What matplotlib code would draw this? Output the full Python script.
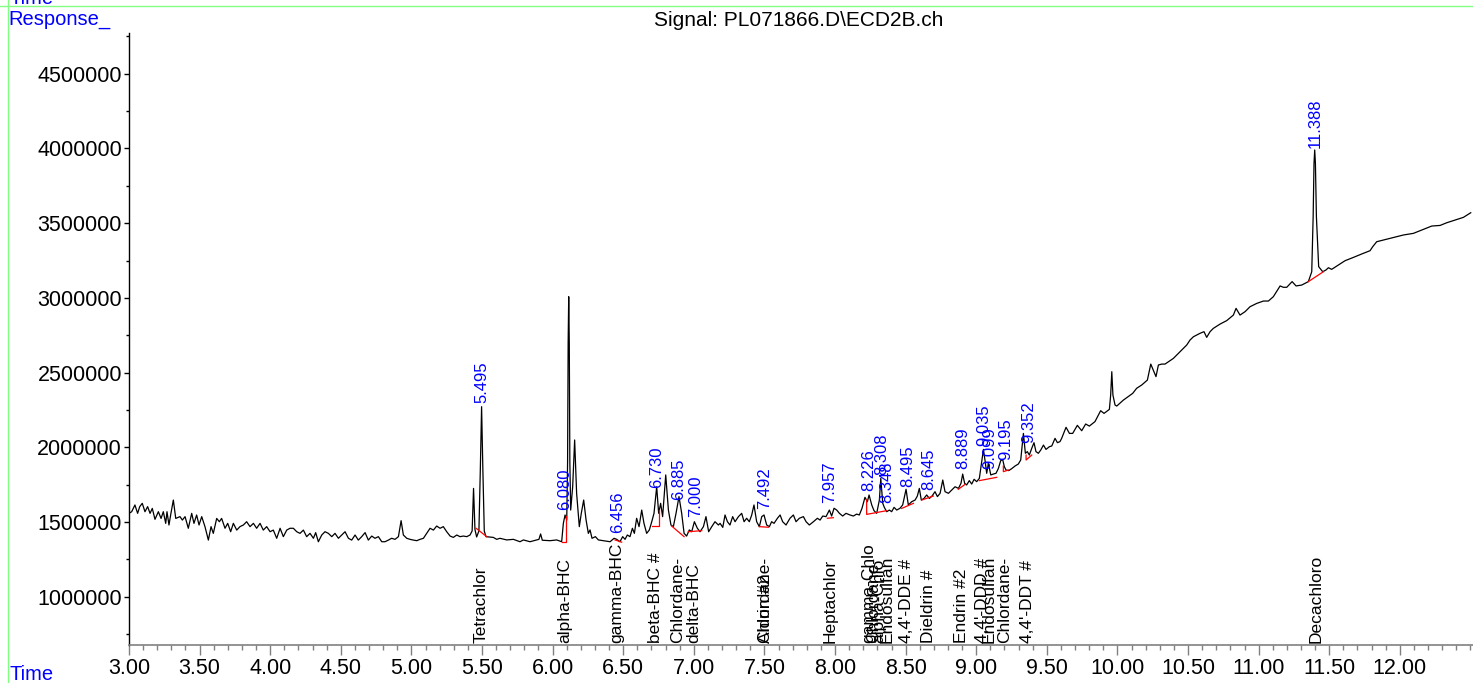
import matplotlib
matplotlib.use("Agg")
import matplotlib.pyplot as plt
from matplotlib.lines import Line2D
from matplotlib.ticker import MultipleLocator, FormatStrFormatter, FixedLocator, FuncFormatter

plt.rcParams["font.family"] = ["Liberation Sans", "DejaVu Sans"]

TITLE = "Signal: PL071866.D\\ECD2B.ch"

# chromatogram trace (time in min, response in counts)
trace_time = [
    3.000, 3.019, 3.042, 3.061, 3.076, 3.094, 3.113, 3.132, 3.149, 3.165, 3.184, 3.208,
    3.227, 3.243, 3.260, 3.269, 3.283, 3.297, 3.314, 3.331, 3.361, 3.378, 3.397, 3.420,
    3.444, 3.460, 3.479, 3.496, 3.515, 3.538, 3.562, 3.581, 3.597, 3.621, 3.640, 3.656,
    3.680, 3.699, 3.720, 3.739, 3.763, 3.786, 3.810, 3.833, 3.857, 3.881, 3.904, 3.928,
    3.951, 3.975, 3.999, 4.022, 4.046, 4.070, 4.093, 4.117, 4.140, 4.164, 4.188, 4.211,
    4.235, 4.258, 4.282, 4.306, 4.322, 4.341, 4.365, 4.388, 4.412, 4.436, 4.459, 4.483,
    4.506, 4.530, 4.554, 4.577, 4.601, 4.624, 4.648, 4.672, 4.695, 4.719, 4.742, 4.766,
    4.790, 4.813, 4.837, 4.860, 4.884, 4.908, 4.927, 4.943, 4.967, 4.990, 5.014, 5.038,
    5.061, 5.085, 5.108, 5.132, 5.156, 5.179, 5.203, 5.226, 5.250, 5.274, 5.297, 5.321,
    5.344, 5.368, 5.392, 5.415, 5.430, 5.440, 5.450, 5.462, 5.478, 5.488, 5.497, 5.506,
    5.516, 5.528, 5.580, 5.604, 5.627, 5.675, 5.722, 5.769, 5.793, 5.840, 5.887, 5.903,
    5.915, 5.927, 5.982, 6.029, 6.064, 6.076, 6.088, 6.100, 6.106, 6.110, 6.114, 6.118,
    6.122, 6.128, 6.142, 6.156, 6.170, 6.189, 6.203, 6.220, 6.237, 6.253, 6.265, 6.279,
    6.303, 6.324, 6.359, 6.407, 6.435, 6.454, 6.477, 6.496, 6.513, 6.529, 6.548, 6.565,
    6.579, 6.595, 6.612, 6.631, 6.647, 6.666, 6.685, 6.702, 6.718, 6.737, 6.751, 6.765,
    6.779, 6.801, 6.820, 6.838, 6.855, 6.874, 6.895, 6.914, 6.931, 6.949, 6.968, 6.985,
    7.004, 7.025, 7.044, 7.068, 7.086, 7.105, 7.127, 7.150, 7.174, 7.186, 7.205, 7.221,
    7.238, 7.256, 7.275, 7.292, 7.316, 7.339, 7.356, 7.374, 7.393, 7.410, 7.426, 7.445,
    7.464, 7.481, 7.497, 7.516, 7.535, 7.551, 7.568, 7.592, 7.611, 7.629, 7.653, 7.681,
    7.705, 7.724, 7.747, 7.776, 7.795, 7.818, 7.847, 7.875, 7.894, 7.913, 7.936, 7.960,
    7.976, 7.993, 8.012, 8.031, 8.054, 8.078, 8.106, 8.130, 8.153, 8.172, 8.191, 8.212,
    8.229, 8.241, 8.260, 8.276, 8.295, 8.314, 8.324, 8.338, 8.349, 8.366, 8.385, 8.401,
    8.418, 8.437, 8.460, 8.479, 8.503, 8.519, 8.543, 8.567, 8.583, 8.597, 8.611, 8.630,
    8.649, 8.668, 8.687, 8.708, 8.725, 8.744, 8.763, 8.779, 8.803, 8.826, 8.850, 8.874,
    8.892, 8.904, 8.918, 8.932, 8.951, 8.968, 8.985, 9.003, 9.022, 9.039, 9.051, 9.065,
    9.074, 9.086, 9.103, 9.121, 9.140, 9.157, 9.173, 9.187, 9.199, 9.211, 9.230, 9.251,
    9.275, 9.298, 9.315, 9.334, 9.348, 9.362, 9.376, 9.393, 9.409, 9.423, 9.440, 9.457,
    9.476, 9.494, 9.518, 9.535, 9.558, 9.575, 9.593, 9.605, 9.636, 9.660, 9.683, 9.716,
    9.747, 9.775, 9.801, 9.841, 9.881, 9.905, 9.943, 9.952, 9.960, 9.968, 9.983, 9.995,
    10.042, 10.108, 10.136, 10.172, 10.212, 10.236, 10.254, 10.273, 10.290, 10.314, 10.337, 10.396,
    10.455, 10.491, 10.514, 10.538, 10.585, 10.613, 10.632, 10.656, 10.679, 10.727, 10.774, 10.821,
    10.840, 10.868, 10.904, 10.939, 10.986, 11.034, 11.069, 11.104, 11.152, 11.175, 11.199, 11.237,
    11.265, 11.305, 11.352, 11.376, 11.386, 11.392, 11.397, 11.402, 11.409, 11.425, 11.454, 11.477,
    11.494, 11.517, 11.553, 11.612, 11.671, 11.730, 11.789, 11.808, 11.836, 11.883, 11.954, 12.025,
    12.096, 12.167, 12.226, 12.285, 12.332, 12.391, 12.450, 12.502,
]
trace_resp = [
    1558000, 1569000, 1614000, 1558000, 1603000, 1625000, 1569000, 1603000, 1558000, 1591000, 1518000, 1569000,
    1524000, 1569000, 1491000, 1569000, 1480000, 1558000, 1647000, 1524000, 1536000, 1513000, 1536000, 1458000,
    1558000, 1491000, 1547000, 1480000, 1536000, 1469000, 1379000, 1469000, 1424000, 1524000, 1502000, 1524000,
    1458000, 1491000, 1435000, 1491000, 1446000, 1469000, 1480000, 1502000, 1469000, 1491000, 1458000, 1491000,
    1446000, 1469000, 1435000, 1446000, 1391000, 1458000, 1402000, 1446000, 1458000, 1458000, 1435000, 1424000,
    1446000, 1402000, 1424000, 1391000, 1429000, 1368000, 1413000, 1435000, 1424000, 1402000, 1424000, 1391000,
    1413000, 1435000, 1391000, 1379000, 1413000, 1379000, 1402000, 1429000, 1379000, 1406000, 1391000, 1402000,
    1368000, 1368000, 1379000, 1391000, 1384000, 1402000, 1509000, 1413000, 1391000, 1384000, 1379000, 1375000,
    1384000, 1391000, 1424000, 1458000, 1446000, 1473000, 1458000, 1469000, 1435000, 1406000, 1397000, 1413000,
    1402000, 1406000, 1402000, 1413000, 1440000, 1725000, 1450000, 1400000, 1440000, 1850000, 2272000, 1850000,
    1440000, 1402000, 1397000, 1384000, 1391000, 1380000, 1384000, 1368000, 1380000, 1368000, 1380000, 1384000,
    1420000, 1378000, 1375000, 1380000, 1368000, 1491000, 1547000, 1513000, 1900000, 2700000, 3008000, 2700000,
    1900000, 1580000, 1736000, 2049000, 1692000, 1469000, 1558000, 1647000, 1513000, 1424000, 1447000, 1391000,
    1402000, 1380000, 1375000, 1368000, 1391000, 1384000, 1368000, 1402000, 1384000, 1413000, 1402000, 1458000,
    1424000, 1525000, 1469000, 1580000, 1491000, 1424000, 1447000, 1502000, 1558000, 1736000, 1558000, 1625000,
    1536000, 1815000, 1580000, 1480000, 1469000, 1558000, 1670000, 1558000, 1424000, 1406000, 1447000, 1435000,
    1502000, 1458000, 1435000, 1469000, 1536000, 1435000, 1469000, 1502000, 1480000, 1491000, 1464000, 1547000,
    1502000, 1480000, 1536000, 1502000, 1536000, 1558000, 1502000, 1525000, 1502000, 1547000, 1614000, 1502000,
    1469000, 1536000, 1547000, 1480000, 1469000, 1502000, 1491000, 1525000, 1547000, 1502000, 1480000, 1525000,
    1547000, 1502000, 1525000, 1536000, 1502000, 1480000, 1502000, 1525000, 1513000, 1540000, 1536000, 1580000,
    1540000, 1592000, 1580000, 1558000, 1540000, 1558000, 1547000, 1540000, 1553000, 1547000, 1592000, 1665000,
    1636000, 1681000, 1614000, 1576000, 1558000, 1647000, 1792000, 1625000, 1598000, 1569000, 1580000, 1569000,
    1598000, 1580000, 1592000, 1614000, 1719000, 1614000, 1636000, 1647000, 1674000, 1725000, 1647000, 1658000,
    1681000, 1658000, 1674000, 1703000, 1670000, 1692000, 1781000, 1703000, 1692000, 1714000, 1736000, 1725000,
    1759000, 1821000, 1759000, 1748000, 1777000, 1754000, 1786000, 1770000, 1792000, 1904000, 1986000, 1893000,
    1826000, 1893000, 1815000, 1821000, 1826000, 1859000, 1910000, 1919000, 1870000, 1848000, 1844000, 1857000,
    1875000, 1888000, 1915000, 2093000, 1960000, 1971000, 1948000, 1993000, 2031000, 1971000, 1960000, 1982000,
    2015000, 1986000, 2004000, 2009000, 2060000, 2031000, 2038000, 2060000, 2134000, 2093000, 2093000, 2147000,
    2111000, 2156000, 2142000, 2172000, 2245000, 2227000, 2254000, 2350000, 2506000, 2350000, 2283000, 2276000,
    2316000, 2361000, 2395000, 2417000, 2450000, 2557000, 2517000, 2473000, 2551000, 2557000, 2557000, 2595000,
    2651000, 2685000, 2718000, 2740000, 2763000, 2774000, 2736000, 2774000, 2796000, 2825000, 2848000, 2885000,
    2930000, 2885000, 2908000, 2941000, 2963000, 2979000, 2979000, 3008000, 3080000, 3071000, 3071000, 3109000,
    3080000, 3086000, 3109000, 3175000, 3544000, 3900000, 3990000, 3900000, 3544000, 3209000, 3175000, 3187000,
    3202000, 3191000, 3213000, 3249000, 3271000, 3294000, 3316000, 3343000, 3376000, 3387000, 3403000, 3421000,
    3432000, 3459000, 3481000, 3485000, 3503000, 3521000, 3539000, 3570000,
]

# integrated peaks: retention time text and where it sits
peak_labels = ["5.495", "6.080", "6.456", "6.730", "6.885", "7.000", "7.492", "7.957",
               "8.226", "8.308", "8.348", "8.495", "8.645", "8.889", "9.035", "9.099",
               "9.195", "9.352", "11.388"]
peak_label_time = [5.497, 6.088, 6.461, 6.737, 6.895, 7.013, 7.499, 7.965,
                   8.236, 8.331, 8.366, 8.512, 8.661, 8.904, 9.051, 9.093,
                   9.211, 9.369, 11.400]
peak_label_resp = [2298000, 1580000, 1424000, 1726000, 1647000, 1536000, 1585000, 1625000,
                   1710000, 1815000, 1625000, 1736000, 1714000, 1853000, 2009000, 1853000,
                   1915000, 2027000, 4003000]

# red integration baselines
base_time = [
    [5.458, 5.533], [6.064, 6.095, 6.095], [6.442, 6.489], [6.702, 6.756, 6.756],
    [6.843, 6.931], [6.961, 7.056], [7.464, 7.528], [7.946, 7.988],
    [8.224, 8.224, 8.366], [8.472, 8.555], [8.614, 8.696], [8.873, 8.921],
    [9.022, 9.145], [9.192, 9.192, 9.228], [9.353, 9.353, 9.393], [11.352, 11.458],
]
base_resp = [
    [1458000, 1402000], [1368000, 1368000, 1540000], [1380000, 1365000], [1473000, 1473000, 1580000],
    [1473000, 1402000], [1435000, 1442000], [1469000, 1465000], [1525000, 1529000],
    [1649000, 1551000, 1576000], [1591000, 1625000], [1647000, 1674000], [1719000, 1752000],
    [1777000, 1799000], [1875000, 1837000, 1848000], [1948000, 1915000, 1948000], [3109000, 3175000],
]

# compound names written along the time axis
compound_names = ["Tetrachlor", "alpha-BHC", "gamma-BHC", "beta-BHC #", "Chlordane-",
                  "delta-BHC", "Chlordane-", "Aldrin #2", "Heptachlor", "gamma-Chlo",
                  "Chlordane-", "alpha-Chlo", "Endosulfan", "4,4'-DDE #", "Dieldrin #",
                  "Endrin #2", "4,4'-DDD #", "Endosulfan", "Chlordane-", "4,4'-DDT #",
                  "Decachloro"]
compound_time = [5.495, 6.085, 6.455, 6.730, 6.886,
                 7.000, 7.500, 7.505, 7.965, 8.236,
                 8.270, 8.310, 8.366, 8.507, 8.660,
                 8.897, 9.046, 9.093, 9.204, 9.362,
                 11.406]

x_major = [3.0, 3.5, 4.0, 4.5, 5.0, 5.5, 6.0, 6.5, 7.0, 7.5, 8.0, 8.5, 9.0, 9.5,
           10.0, 10.5, 11.0, 11.5, 12.0]
y_major = [1000000, 1500000, 2000000, 2500000, 3000000, 3500000, 4000000, 4500000]

W, H = 1473, 683

fig = plt.figure(figsize=(W / 100, H / 100), dpi=100)
ax = fig.add_axes([129 / W, 38 / H, 1 - 129 / W, 612 / H])

ax.plot(trace_time, trace_resp, color="black", lw=0.9)
for bt, bv in zip(base_time, base_resp):
    ax.plot(bt, bv, color="red", lw=0.9)

for lab, t, v in zip(peak_labels, peak_label_time, peak_label_resp):
    ax.text(t, v, lab, rotation=90, ha="center", va="bottom",
            color="blue", fontsize=12)

for name, t in zip(compound_names, compound_time):
    ax.annotate(name, (t, 0), xycoords=("data", "axes fraction"),
                xytext=(0, 1.5), textcoords="offset points",
                rotation=90, ha="center", va="bottom", fontsize=12.5)

ax.set_xlim(3.0, 12.518)
ax.set_ylim(676800, 4773000)

ax.xaxis.set_major_locator(FixedLocator(x_major))
ax.xaxis.set_minor_locator(MultipleLocator(0.1))
ax.xaxis.set_major_formatter(FormatStrFormatter("%.2f"))
ax.yaxis.set_major_locator(FixedLocator(y_major))
ax.yaxis.set_minor_locator(MultipleLocator(250000))
ax.yaxis.set_major_formatter(FuncFormatter(lambda v, p: f"{v:.0f}"))

for s in ("top", "right"):
    ax.spines[s].set_visible(False)
ax.spines["left"].set_color("black")
ax.spines["left"].set_linewidth(1.0)
ax.spines["bottom"].set_color("#808080")
ax.spines["bottom"].set_linewidth(1.2)

ax.tick_params(axis="x", which="major", direction="out", length=7, width=1,
               color="#808080", labelsize=15.5, pad=2)
ax.tick_params(axis="x", which="minor", direction="out", length=3.5, width=1,
               color="#808080")
ax.tick_params(axis="y", which="major", direction="out", length=3.5, width=1,
               labelsize=15.5, pad=1.5)
ax.tick_params(axis="y", which="minor", direction="out", length=2.5, width=1)

# frame and page texts
green = "#80ff80"
fig.add_artist(Line2D([0, 1], [1 - 6 / H] * 2, color=green, lw=1))
fig.add_artist(Line2D([8 / W] * 2, [0, 1], color=green, lw=1))
fig.text(9 / W, 1 - 4 / H, "Time", color="blue", fontsize=14.5, va="baseline")
fig.text(8 / W, 1 - 25 / H, "Response_", color="blue", fontsize=14.5, va="baseline")
fig.text(10 / W, 3 / H, "Time", color="blue", fontsize=14.5, va="baseline")
fig.text(799 / W, 1 - 20 / H, TITLE, ha="center", va="center", fontsize=15)

fig.savefig("out.png", dpi=100)
plt.close(fig)
